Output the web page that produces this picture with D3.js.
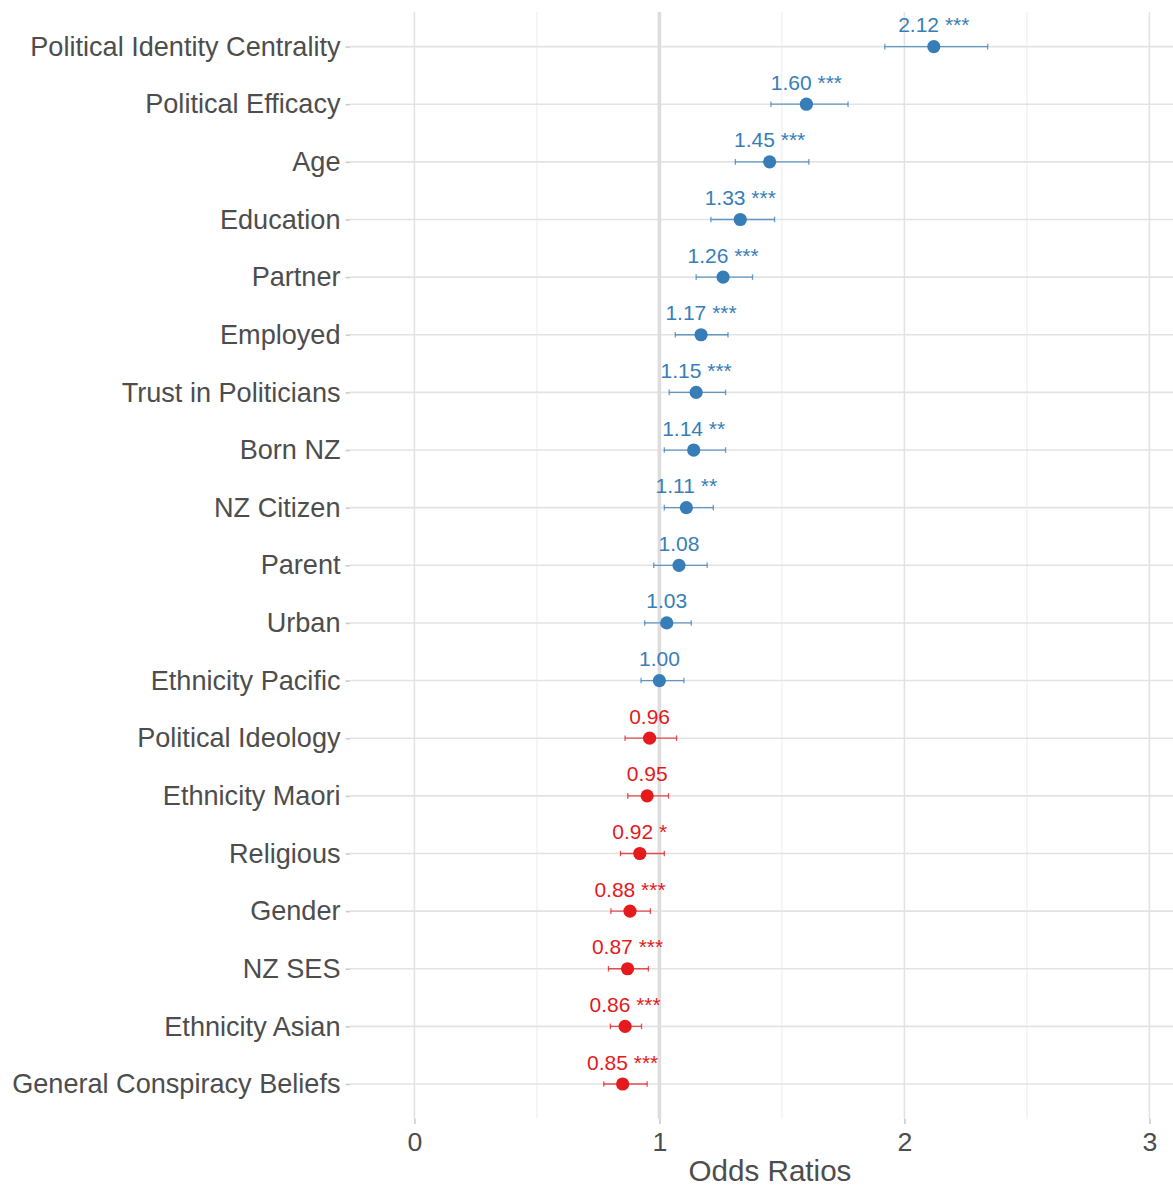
<!DOCTYPE html>
<html>
<head>
<meta charset="utf-8">
<script src="https://cdn.jsdelivr.net/npm/d3@7"></script>
<style>
  html, body { margin: 0; padding: 0; background: #ffffff; }
  svg { display: block; font-family: "Liberation Sans", Arial, sans-serif; }
</style>
</head>
<body>
<svg id="chart" width="1173" height="1187"></svg>
<script>
// Model terms, top to bottom
const terms = [
  "Political Identity Centrality", "Political Efficacy", "Age", "Education",
  "Partner", "Employed", "Trust in Politicians", "Born NZ", "NZ Citizen",
  "Parent", "Urban", "Ethnicity Pacific", "Political Ideology",
  "Ethnicity Maori", "Religious", "Gender", "NZ SES", "Ethnicity Asian",
  "General Conspiracy Beliefs"
];
// Odds ratios
const estimates = [2.12, 1.60, 1.45, 1.33, 1.26, 1.17, 1.15, 1.14, 1.11, 1.08,
  1.03, 1.00, 0.96, 0.95, 0.92, 0.88, 0.87, 0.86, 0.85];
// 95% confidence intervals
const ciLow = [1.92, 1.455, 1.31, 1.21, 1.15, 1.065, 1.04, 1.02, 1.02, 0.977,
  0.94, 0.925, 0.86, 0.871, 0.841, 0.802, 0.792, 0.80, 0.773];
const ciHigh = [2.34, 1.77, 1.61, 1.47, 1.38, 1.28, 1.27, 1.27, 1.22, 1.195,
  1.13, 1.10, 1.07, 1.037, 1.02, 0.963, 0.955, 0.927, 0.95];
// Significance markers
const stars = ["***", "***", "***", "***", "***", "***", "***", "**", "**", "",
  "", "", "", "", "*", "***", "***", "***", "***"];
// Axis
const xTicks = [0, 1, 2, 3];
const xMinor = [0.5, 1.5, 2.5];
const xTitle = "Odds Ratios";

const colPos = "#377eb8";
const colNeg = "#e41a1c";
const textCol = "#4d4d4d";
const gridCol = "#e3e3e3";

const svg = d3.select("#chart");
const panel = { left: 350, right: 1173, top: 12, bottom: 1118.6 };

const x = d3.scaleLinear().domain([0, 3]).range([414.4, 1149.4]);
const y = d3.scalePoint().domain(terms).range([panel.top, panel.bottom]).padding(0.6);

const rows = terms.map((t, i) => ({
  term: t, est: estimates[i], lo: ciLow[i], hi: ciHigh[i], sig: stars[i]
}));
const colorOf = d => (d.est >= 1 ? colPos : colNeg);

// grid
const grid = svg.append("g");
grid.selectAll("line.minor").data(xMinor).join("line")
  .attr("x1", d => x(d)).attr("x2", d => x(d))
  .attr("y1", panel.top).attr("y2", panel.bottom)
  .attr("stroke", "#ececec").attr("stroke-width", 1);
grid.selectAll("line.major").data(xTicks).join("line")
  .attr("x1", d => x(d)).attr("x2", d => x(d))
  .attr("y1", panel.top).attr("y2", panel.bottom)
  .attr("stroke", gridCol).attr("stroke-width", 1.6);
grid.selectAll("line.h").data(terms).join("line")
  .attr("x1", panel.left).attr("x2", panel.right)
  .attr("y1", d => y(d)).attr("y2", d => y(d))
  .attr("stroke", gridCol).attr("stroke-width", 1.6);

// reference line at OR = 1
svg.append("line")
  .attr("x1", x(1)).attr("x2", x(1))
  .attr("y1", panel.top).attr("y2", panel.bottom)
  .attr("stroke", "#dddddd").attr("stroke-width", 3.6);

// axes
const xAxis = svg.append("g")
  .attr("transform", `translate(0,${panel.bottom})`)
  .call(d3.axisBottom(x).tickValues(xTicks).tickFormat(d3.format("d"))
    .tickSize(5.5).tickPadding(8));
xAxis.select(".domain").remove();
xAxis.selectAll(".tick line").attr("stroke", "#cccccc").attr("stroke-width", 1.6);
xAxis.selectAll(".tick text").attr("fill", textCol)
  .attr("font-size", "26.7px").attr("font-family", "Liberation Sans, Arial, sans-serif");

const yAxis = svg.append("g")
  .attr("transform", `translate(${panel.left},0)`)
  .call(d3.axisLeft(y).tickSize(4.5).tickPadding(5));
yAxis.select(".domain").remove();
yAxis.selectAll(".tick line").attr("stroke", "#cccccc").attr("stroke-width", 1.6);
yAxis.selectAll(".tick text").attr("fill", textCol)
  .attr("font-size", "27.1px").attr("font-family", "Liberation Sans, Arial, sans-serif");

svg.append("text")
  .attr("x", 770)
  .attr("y", 1181)
  .attr("text-anchor", "middle")
  .attr("fill", textCol)
  .attr("font-size", "29.6px")
  .text(xTitle);

// confidence intervals
const ci = svg.append("g").selectAll("g").data(rows).join("g")
  .attr("stroke", colorOf).attr("stroke-opacity", 0.75).attr("stroke-width", 1.3);
ci.append("line")
  .attr("x1", d => x(d.lo)).attr("x2", d => x(d.hi))
  .attr("y1", d => y(d.term)).attr("y2", d => y(d.term));
ci.append("line")
  .attr("x1", d => x(d.lo)).attr("x2", d => x(d.lo))
  .attr("y1", d => y(d.term) - 2.8).attr("y2", d => y(d.term) + 2.8);
ci.append("line")
  .attr("x1", d => x(d.hi)).attr("x2", d => x(d.hi))
  .attr("y1", d => y(d.term) - 2.8).attr("y2", d => y(d.term) + 2.8);

// point estimates
svg.append("g").selectAll("circle").data(rows).join("circle")
  .attr("cx", d => x(d.est)).attr("cy", d => y(d.term))
  .attr("r", 6.6).attr("fill", colorOf);

// value labels
svg.append("g").selectAll("text").data(rows).join("text")
  .attr("x", d => x(d.est)).attr("y", d => y(d.term) - 14.5)
  .attr("text-anchor", "middle")
  .attr("fill", colorOf)
  .attr("font-size", "21px")
  .text(d => d3.format(".2f")(d.est) + (d.sig ? " " + d.sig : ""));
</script>
</body>
</html>
